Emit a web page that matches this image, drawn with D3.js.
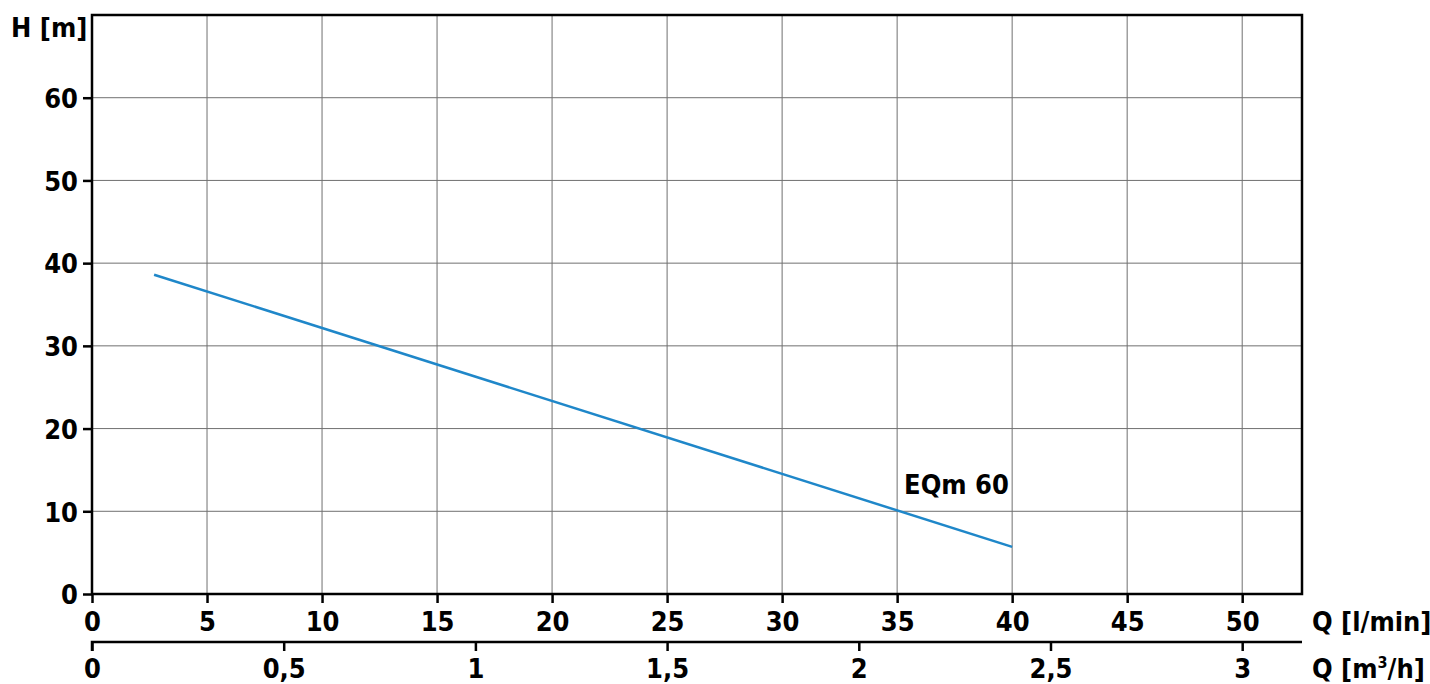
<!DOCTYPE html>
<html>
<head>
<meta charset="utf-8">
<script src="https://cdn.jsdelivr.net/npm/d3@7"></script>
<style>
body { margin: 0; background: #fff; }
text { font-family: "DejaVu Sans Condensed", "Liberation Sans Narrow", sans-serif; font-weight: bold; fill: #000; }
</style>
</head>
<body>
<div id="chart"></div>
<script>
var width = 1430,
height = 684;

// Data
var qLmin = [2.7, 40]        // l/min
var head = [38.6, 5.7]       // m
var curveName = "EQm 60"
var xTicks = [0, 5, 10, 15, 20, 25, 30, 35, 40, 45, 50]
var yTicks = [0, 10, 20, 30, 40, 50, 60]
var m3hTicks = [0, 0.5, 1, 1.5, 2, 2.5, 3]

var pLeft = 92, pRight = 1302, pTop = 15, pBottom = 594
var fs = '27px'

var svg = d3.select("#chart").append("svg")
.attr('width', width)
.attr('height', height)

var x = d3.scaleLinear().domain([0, 52.6]).range([pLeft, pRight])
var y = d3.scaleLinear().domain([0, 70]).range([pBottom, pTop])
// 1 m3/h = 1000/60 l/min
var x2 = d3.scaleLinear().domain([0, 52.6 * 60 / 1000]).range([pLeft, pRight])

// grid
svg.selectAll('.vgrid')
.data(xTicks.filter(function (d) { return d > 0 }))
.join('line')
.attr('x1', function (d) { return x(d) })
.attr('x2', function (d) { return x(d) })
.attr('y1', pTop)
.attr('y2', pBottom)
.attr('stroke', '#707070')
.attr('stroke-width', 1)

svg.selectAll('.hgrid')
.data(yTicks.filter(function (d) { return d > 0 }))
.join('line')
.attr('x1', pLeft)
.attr('x2', pRight)
.attr('y1', function (d) { return y(d) })
.attr('y2', function (d) { return y(d) })
.attr('stroke', '#707070')
.attr('stroke-width', 1)

// frame
svg.append('rect')
.attr('x', pLeft)
.attr('y', pTop)
.attr('width', pRight - pLeft)
.attr('height', pBottom - pTop)
.attr('fill', 'none')
.attr('stroke', '#000')
.attr('stroke-width', 2.5)

var fmt = function (d) { return String(d).replace('.', ',') }

// y axis
var yAxis = svg.append('g')
.attr('transform', 'translate(' + pLeft + ',0)')
.call(d3.axisLeft(y).tickValues(yTicks).tickSize(9).tickPadding(5))
yAxis.select('.domain').remove()
yAxis.selectAll('line').attr('stroke', '#000').attr('stroke-width', 2.5)
yAxis.selectAll('text').style('font-size', fs).attr('dy', '0.36em')

// x axis l/min
var xAxis = svg.append('g')
.attr('transform', 'translate(0,' + pBottom + ')')
.call(d3.axisBottom(x).tickValues(xTicks).tickSize(9))
xAxis.select('.domain').remove()
xAxis.selectAll('line').attr('stroke', '#000').attr('stroke-width', 2.5)
xAxis.selectAll('text').style('font-size', fs).attr('y', 37).attr('dy', 0)

// x axis m3/h
var x2Axis = svg.append('g')
.attr('transform', 'translate(0,642)')
.call(d3.axisBottom(x2).tickValues(m3hTicks).tickSize(9).tickFormat(fmt))
x2Axis.select('.domain').attr('stroke', '#000').attr('stroke-width', 2.5).attr('d', 'M' + pLeft + ',9V0H' + pRight)
x2Axis.selectAll('line').attr('stroke', '#000').attr('stroke-width', 2.5)
x2Axis.selectAll('text').style('font-size', fs).attr('y', 36).attr('dy', 0)

// axis titles
svg.append('text')
.attr('x', 11)
.attr('y', 37)
.style('font-size', fs)
.text('H [m]')

svg.append('text')
.attr('x', 1312)
.attr('y', 631)
.style('font-size', fs)
.text('Q [l/min]')

var q2 = svg.append('text')
.attr('x', 1312)
.attr('y', 678)
.style('font-size', fs)
q2.append('tspan').text('Q [m')
q2.append('tspan').text('3').style('font-size', '16px').attr('dy', '-10')
q2.append('tspan').text('/h]').attr('dy', '10')

// curve
var line = d3.line()
.x(function (d) { return x(d[0]) })
.y(function (d) { return y(d[1]) })

svg.append('path')
.datum(d3.zip(qLmin, head))
.attr('d', line)
.attr('fill', 'none')
.attr('stroke', '#1f87c9')
.attr('stroke-width', 2.5)

svg.append('text')
.attr('x', x(35.3))
.attr('y', y(12.1))
.style('font-size', fs)
.text(curveName)
</script>
</body>
</html>
